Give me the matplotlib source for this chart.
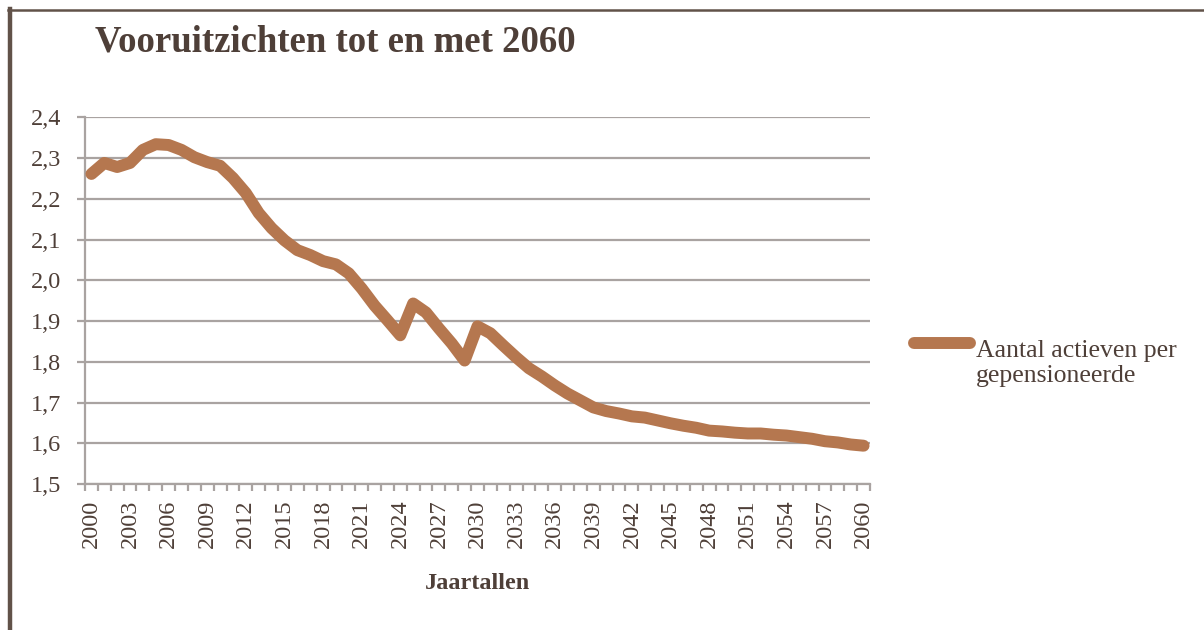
import matplotlib
matplotlib.use("Agg")
import matplotlib.pyplot as plt
from matplotlib.lines import Line2D
import numpy as np

years = list(range(2000, 2061))
values = [2.261, 2.288, 2.278, 2.288, 2.320, 2.334, 2.332, 2.320, 2.302, 2.290,
          2.281, 2.251, 2.214, 2.165, 2.128, 2.098, 2.074, 2.062, 2.047, 2.039,
          2.017, 1.980, 1.938, 1.902, 1.865, 1.943, 1.921, 1.882, 1.845, 1.803,
          1.887, 1.870, 1.840, 1.811, 1.784, 1.764, 1.742, 1.722, 1.705, 1.688,
          1.679, 1.673, 1.666, 1.663, 1.656, 1.649, 1.643, 1.638, 1.631, 1.629,
          1.626, 1.624, 1.624, 1.621, 1.619, 1.615, 1.611, 1.605, 1.602, 1.597,
          1.594]
y_ticks = [1.5, 1.6, 1.7, 1.8, 1.9, 2.0, 2.1, 2.2, 2.3, 2.4]
title = "Vooruitzichten tot en met 2060"
xlabel = "Jaartallen"
series_label = "Aantal actieven per\ngepensioneerde"

LINE = "#B5774F"
GRID = "#A9A3A1"
TEXT = "#4E3F38"
FRAME = "#615249"
FONT = "Liberation Serif"

plt.rcParams['font.family'] = [FONT, 'DejaVu Serif']

fig = plt.figure(figsize=(12.04, 6.30), dpi=100)
ax = fig.add_axes([85/1204, 1 - 484/630, (870-85)/1204, (484-117.3)/630])

x = np.arange(len(years))
ax.plot(x, values, color=LINE, linewidth=8.6, solid_capstyle='round',
        solid_joinstyle='round', zorder=3)

ax.set_xlim(-0.5, len(years) - 0.5)
ax.set_ylim(1.5, 2.4)

# y axis
ax.set_yticks(y_ticks)
ax.set_yticklabels([f"{v:.1f}".replace('.', ',') for v in y_ticks])
ax.yaxis.grid(True, color=GRID, linewidth=1.6)
ax.tick_params(axis='y', length=6, width=1.6, color=GRID, pad=11,
               labelsize=17.5, labelcolor=TEXT)

# x axis
label_idx = x[::3]
ax.set_xticks(label_idx)
ax.set_xticklabels([str(years[i]) for i in label_idx], rotation=90)
ax.set_xticks(np.arange(-0.5, len(years)), minor=True)
ax.tick_params(axis='x', which='major', length=0, pad=11,
               labelsize=17.5, labelcolor=TEXT)
ax.tick_params(axis='x', which='minor', length=5, width=1.6, color=GRID)

for s in ['top', 'right']:
    ax.spines[s].set_visible(False)
for s in ['left', 'bottom']:
    ax.spines[s].set_color(GRID)
    ax.spines[s].set_linewidth(1.6)
ax.set_axisbelow(True)

ax.set_xlabel(xlabel, fontsize=17.5, fontweight='bold', color=TEXT, labelpad=18)

fig.text(95/1204, 1 - 52/630, title, fontsize=26.5, fontweight='bold',
         color=TEXT, ha='left', va='baseline')

# legend
fig.add_artist(Line2D([914/1204, 970/1204], [1 - 343/630, 1 - 343/630],
                      color=LINE, linewidth=8.6, solid_capstyle='round'))
fig.text(976/1204, 1 - 382/630, series_label, fontsize=18.5, color=TEXT,
         ha='left', va='baseline', linespacing=1.2)

# frame lines
fig.add_artist(Line2D([10/1204, 10/1204], [0, 1 - 9/630], color=FRAME, linewidth=3.2))
fig.add_artist(Line2D([8/1204, 1], [1 - 10/630, 1 - 10/630], color=FRAME, linewidth=1.8))

fig.savefig("out.png", dpi=100, facecolor='white')
